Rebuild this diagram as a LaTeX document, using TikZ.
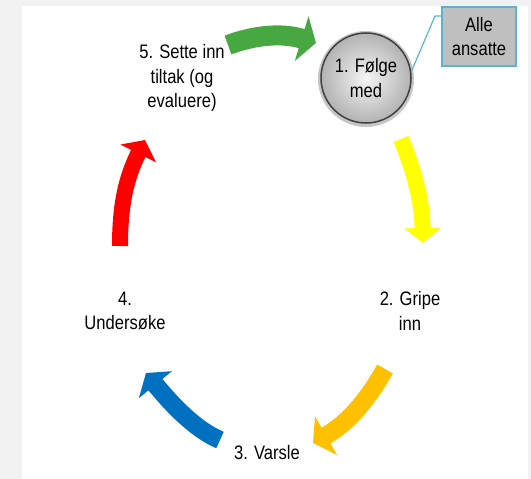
\documentclass[tikz,border=0pt]{standalone}
\usepackage{fontspec}
\setmainfont[FakeStretch=0.85]{Liberation Sans}
\usetikzlibrary{arrows.meta}
\definecolor{cgreen}{HTML}{47A842}
\definecolor{cred}{HTML}{FF0000}
\definecolor{cyellow}{HTML}{FFFF00}
\definecolor{corange}{HTML}{FFC000}
\definecolor{cblue}{HTML}{0070C0}
\definecolor{lineblue}{HTML}{5BB4D2}
\definecolor{boxgray}{HTML}{BFBFBF}
\definecolor{bggray}{HTML}{F2F2F2}
\begin{document}
\begin{tikzpicture}[x=1pt,y=-1pt,
    lbl/.style={align=center,font=\fontsize{19.5}{24.5}\selectfont},
    cyc/.style 2 args={line width=#1,-{Triangle[width=#2,length=15pt]}}]
    \fill[bggray] (0,0) rectangle (531,479);
    \fill[white] (22,6) rectangle (528,479);
    \useasboundingbox (0,0) rectangle (531,479);
    \fill[gray!45] (366,79) circle[radius=48pt];
    \node[circle,minimum size=90pt,inner sep=0pt,shade,inner color=gray!8,outer color=gray!60,draw=black!75,line width=1.5pt,lbl] (follow) at (366,78) {1. Følge\\med};
    \node[draw=lineblue,fill=boxgray,line width=1.5pt,minimum width=74pt,minimum height=59pt,inner sep=0pt,lbl] (staff) at (479,36.5) {Alle\\ansatte};
    \coordinate (kink) at (435,16);
    \draw[lineblue,line width=1.2pt] (follow.8) -- (kink) -- (kink -| staff.west);
    \node[lbl] (act) at (182,78) {5. Sette inn\\tiltak (og\\evaluere)};
    \node[lbl] (step) at (410,311) {2. Gripe\\inn};
    \node[lbl] (probe) at (125,311) {4.\\Undersøke};
    \node[lbl] (warn) at (267,453) {3. Varsle};
    \coordinate (g0) at (228,45);
    \coordinate (g1) at (316,43);
    \coordinate (y0) at (401,139);
    \coordinate (y1) at (423,243);
    \coordinate (o0) at (385,369);
    \coordinate (o1) at (313,443);
    \coordinate (b0) at (220,440);
    \coordinate (b1) at (146,373);
    \coordinate (r0) at (120,246);
    \coordinate (r1) at (145,140);
    \draw[cgreen,cyc={20pt}{46pt}] (g0) .. controls (252,36) and (280,32) .. (g1);
    \draw[cyellow,cyc={16pt}{36pt}] (y0) .. controls (414,170) and (422,200) .. (y1);
    \draw[corange,cyc={18pt}{44pt}] (o0) .. controls (370,396) and (350,422) .. (o1);
    \draw[cblue,cyc={18pt}{42pt}] (b0) .. controls (196,430) and (172,405) .. (b1);
    \draw[cred,cyc={16pt}{39pt}] (r0) .. controls (120,205) and (126,178) .. (r1);
\end{tikzpicture}
\end{document}
